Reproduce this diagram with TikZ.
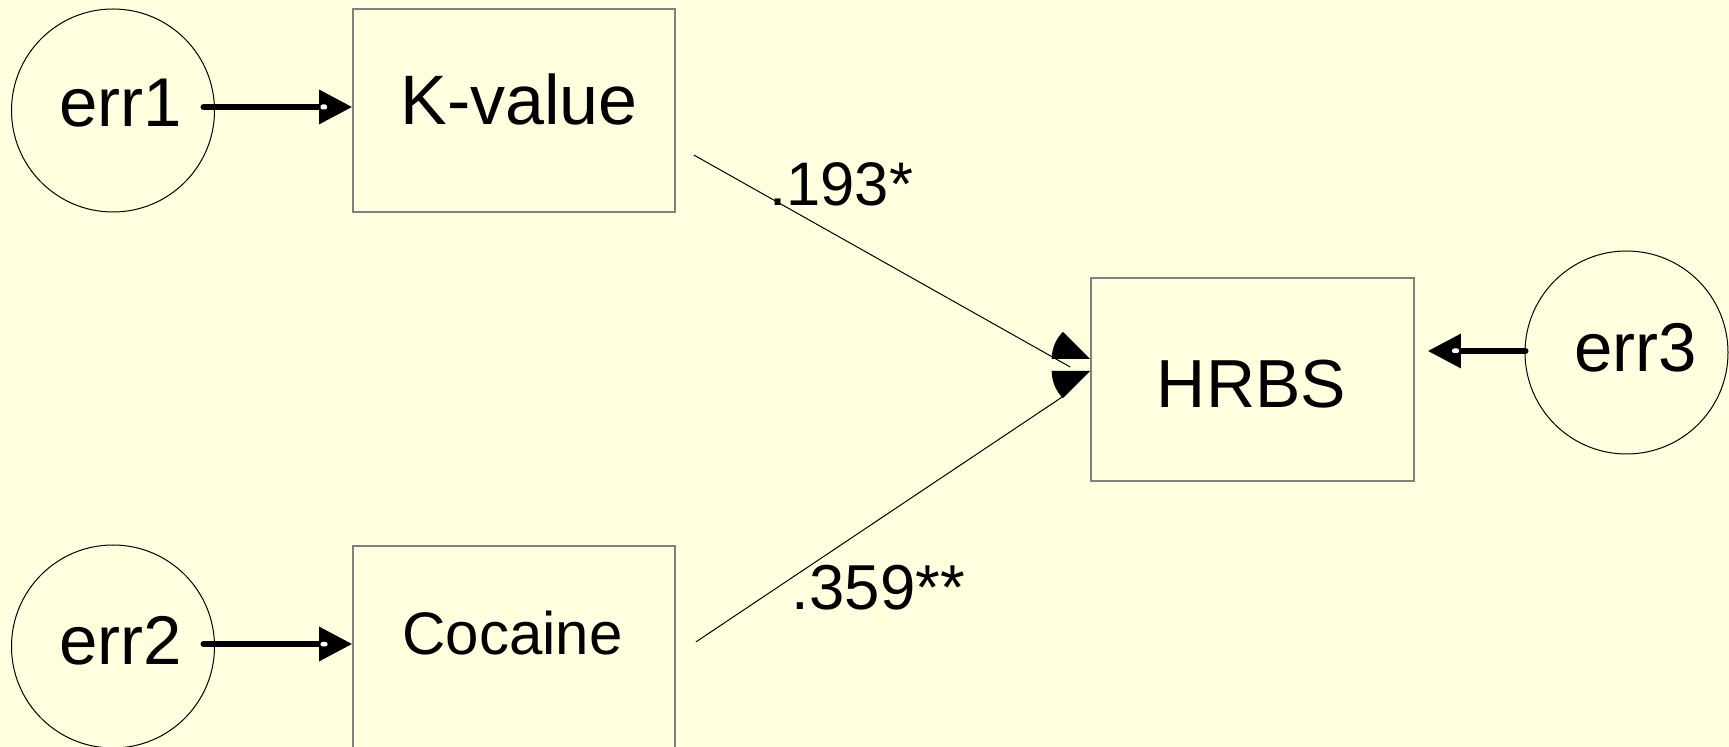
\documentclass[tikz,border=0pt]{standalone}
\usepackage{fontspec}
\setmainfont{Liberation Sans}
\usetikzlibrary{arrows.meta}
\definecolor{bgyellow}{HTML}{FFFFE0}
\definecolor{boxgray}{HTML}{808080}
\tikzset{
  errcircle/.style={circle, draw=black, line width=0.5pt, minimum size=101.5pt, inner sep=0pt},
  varbox/.style={rectangle, draw=boxgray, line width=0.8pt, minimum width=161pt, minimum height=101.5pt, inner sep=0pt},
  txt/.style={inner sep=0pt, anchor=base west, text=black},
  errarrow/.style={line width=3pt, line cap=round, -{Triangle[length=16.5pt,width=16.5pt]}},
  pathline/.style={line width=0.5pt, black},
  wedge/.style={fill=black},
  gapmark/.style={fill=white, rounded corners=1pt}
}
\begin{document}
\begin{tikzpicture}[x=0.5pt,y=-0.5pt]
\fill[bgyellow] (0,0) rectangle (1729,747);
\useasboundingbox (0,0) rectangle (1729,747);

% shapes
\node[errcircle] (e1) at (113,110.5) {};
\node[errcircle] (e2) at (113,646.5) {};
\node[errcircle] (e3) at (1626.5,352.5) {};
\node[varbox] (kv) at (514,110.5) {};
\node[varbox] (co) at (514,647.5) {};
\node[varbox, minimum width=161.5pt] (hr) at (1252.5,379.5) {};

% texts
\node[txt, font=\fontsize{34.5pt}{40pt}\selectfont] (t1) at (59,127) {err1};
\node[txt, font=\fontsize{34.5pt}{40pt}\selectfont] (t2) at (59,665) {err2};
\node[txt, font=\fontsize{34.5pt}{40pt}\selectfont] (t3) at (1574,372) {err3};
\node[txt, font=\fontsize{35pt}{40pt}\selectfont] (tk) at (400,125) {K-value};
\node[txt, font=\fontsize{34pt}{40pt}\selectfont] (th) at (1156.5,408) {HRBS};
\node[txt, font=\fontsize{30pt}{36pt}\selectfont] (tc) at (402,655) {Cocaine};
\node[txt, font=\fontsize{30.75pt}{36pt}\selectfont] (l1) at (769,205.5) {.193*};
\node[txt, font=\fontsize{31.75pt}{36pt}\selectfont] (l2) at (791.5,610) {.359**};

% error arrows
\draw[errarrow] ([shift={(-11.5,-3.5)}]e1.east) -- ([shift={(0,-3.5)}]kv.west);
\draw[errarrow] ([shift={(-11.5,-2.5)}]e2.east) -- ([shift={(0,-3.5)}]co.west);
\draw[errarrow] ([shift={(1,-1.5)}]e3.west) -- ([shift={(13,-28.5)}]hr.east);
\fill[gapmark] (320.5,104.5) rectangle (327,109.5);
\fill[gapmark] (320.5,642) rectangle (327.5,646.5);
\fill[gapmark] (1452,348.5) rectangle (1459,353);

% regression paths
\draw[pathline] ([shift={(18,44.5)}]kv.east) -- ([shift={(-20,-12.5)}]hr.west);
\draw[pathline] ([shift={(20,-5.5)}]co.east) -- ([shift={(-28,17.5)}]hr.west);

% wedge arrowheads
\fill[wedge] ([shift={(0,-20.5)}]hr.west) -- ++(180:38.5) arc[start angle=180, end angle=225, radius=38.5] -- cycle;
\fill[wedge] ([shift={(0,-8.5)}]hr.west) -- ++(180:38.5) arc[start angle=180, end angle=135, radius=38.5] -- cycle;
\end{tikzpicture}
\end{document}
